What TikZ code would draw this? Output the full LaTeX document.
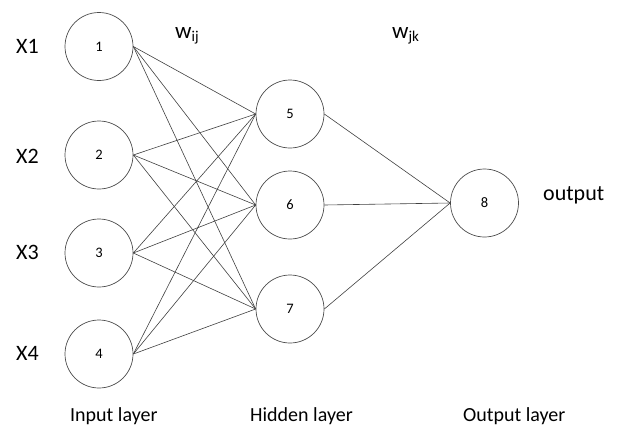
\documentclass[tikz,border=0pt]{standalone}
\usepackage{fontspec}
\setmainfont{Carlito}
\begin{document}
\begin{tikzpicture}[x=1pt,y=-1pt,
  neuron/.style={draw=black!70, line width=0.7pt, circle, minimum size=68pt, inner sep=0pt, font=\fontsize{14.5}{14.5}\selectfont},
  wire/.style={draw=black!75, line width=0.6pt},
  xlab/.style={anchor=base west, inner sep=0pt, font=\fontsize{22}{22}\selectfont},
  laylab/.style={anchor=base west, inner sep=0pt, font=\fontsize{20}{20}\selectfont}]
\useasboundingbox (0,0) rectangle (617,426);
% input layer
\node[neuron] (n1) at (99,46.5) {1};
\node[neuron] (n2) at (99,155) {2};
\node[neuron] (n3) at (99,253) {3};
\node[neuron] (n4) at (99,354) {4};
% hidden layer
\node[neuron] (n5) at (290,114) {5};
\node[neuron] (n6) at (290,205) {6};
\node[neuron] (n7) at (290,309) {7};
% output layer
\node[neuron] (n8) at (484.5,203) {8};
% connections input -> hidden
\foreach \i in {1,2,3,4}
  \foreach \j in {5,6,7}
    \draw[wire] (n\i.east) -- (n\j.west);
% connections hidden -> output
\foreach \j in {5,6,7}
  \draw[wire] (n\j.east) -- (n8.west);
% labels
\node[xlab] (x1) at (16,53) {X1};
\node[xlab] (x2) at (16,163) {X2};
\node[xlab] (x3) at (16,259) {X3};
\node[xlab] (x4) at (16,360) {X4};
\node[anchor=base west, inner sep=0pt] (wij) at (175,38) {\fontsize{23}{23}\selectfont w\raisebox{-3pt}{\fontsize{15}{15}\selectfont ij}};
\node[anchor=base west, inner sep=0pt] (wjk) at (392,38) {\fontsize{23}{23}\selectfont w\raisebox{-3pt}{\fontsize{15}{15}\selectfont jk}};
\node[xlab] (out) at (543,200) {output};
\node[laylab] (lin) at (70,421) {Input layer};
\node[laylab] (lhid) at (250,421) {Hidden layer};
\node[laylab] (lout) at (463,421) {Output layer};
\end{tikzpicture}
\end{document}
